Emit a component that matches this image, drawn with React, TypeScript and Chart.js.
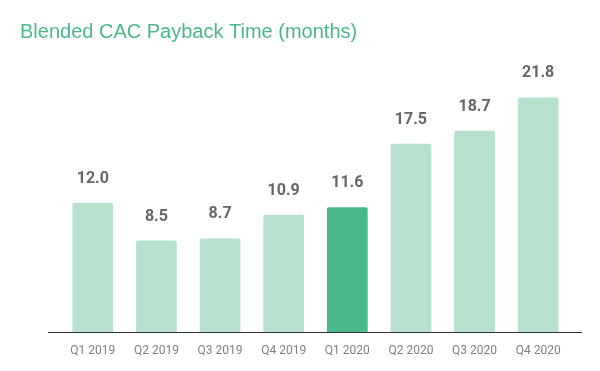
import React, { useEffect, useRef } from "react";
import { Chart, registerables } from "chart.js";

Chart.register(...registerables);

const categories = ["Q1 2019", "Q2 2019", "Q3 2019", "Q4 2019", "Q1 2020", "Q2 2020", "Q3 2020", "Q4 2020"];
const values = [12.0, 8.5, 8.7, 10.9, 11.6, 17.5, 18.7, 21.8];
const highlightIndex = 4;
const titleText = "Blended CAC Payback Time (months)";

const LIGHT = "#b7e1cd";
const DARK = "#4ab98a";

const overlayPlugin = {
  id: "overlay",
  afterDatasetsDraw(chart: any) {
    const ctx = chart.ctx;
    const meta = chart.getDatasetMeta(0);
    ctx.save();
    ctx.font = "bold 16px Roboto, 'Liberation Sans', Arial, sans-serif";
    ctx.fillStyle = "#666666";
    ctx.textAlign = "center";
    ctx.textBaseline = "alphabetic";
    meta.data.forEach((bar: any, i: number) => {
      ctx.fillText(values[i].toFixed(1), bar.x, bar.y - 20);
    });
    // baseline
    const area = chart.chartArea;
    ctx.strokeStyle = "#333333";
    ctx.lineWidth = 1;
    ctx.beginPath();
    ctx.moveTo(area.left - 13, Math.round(area.bottom) + 0.5);
    ctx.lineTo(area.right + 12, Math.round(area.bottom) + 0.5);
    ctx.stroke();
    // title
    ctx.font = "20px 'Liberation Sans', Arial, sans-serif";
    ctx.fillStyle = DARK;
    ctx.textAlign = "left";
    ctx.textBaseline = "middle";
    ctx.fillText(titleText, 20, 32);
    ctx.restore();
  },
};

export default function App() {
  const ref = useRef<HTMLCanvasElement>(null);
  useEffect(() => {
    document.body.style.margin = "0";
    const chart = new Chart(ref.current!, {
      type: "bar",
      data: {
        labels: categories,
        datasets: [
          {
            data: values,
            backgroundColor: values.map((_, i) => (i === highlightIndex ? DARK : LIGHT)),
            borderRadius: { topLeft: 2, topRight: 2, bottomLeft: 0, bottomRight: 0 },
            borderSkipped: false,
            barPercentage: 0.64,
            categoryPercentage: 1,
          },
        ],
      },
      options: {
        responsive: false,
        animation: false,
        layout: { padding: { left: 61, right: 30, top: 63, bottom: 0 } },
        plugins: { legend: { display: false }, tooltip: { enabled: false }, title: { display: false } },
        scales: {
          x: {
            grid: { display: false },
            border: { display: false },
            ticks: {
              color: "#808080",
              font: { size: 12, family: "Roboto, 'Liberation Sans', Arial, sans-serif" },
              padding: 4,
            },
            afterFit: (s: any) => {
              s.height = 39;
            },
          },
          y: { display: false, min: 0, max: 25 },
        },
      },
      plugins: [overlayPlugin],
    });
    return () => chart.destroy();
  }, []);
  return <canvas ref={ref} width={600} height={371} style={{ display: "block" }} />;
}
